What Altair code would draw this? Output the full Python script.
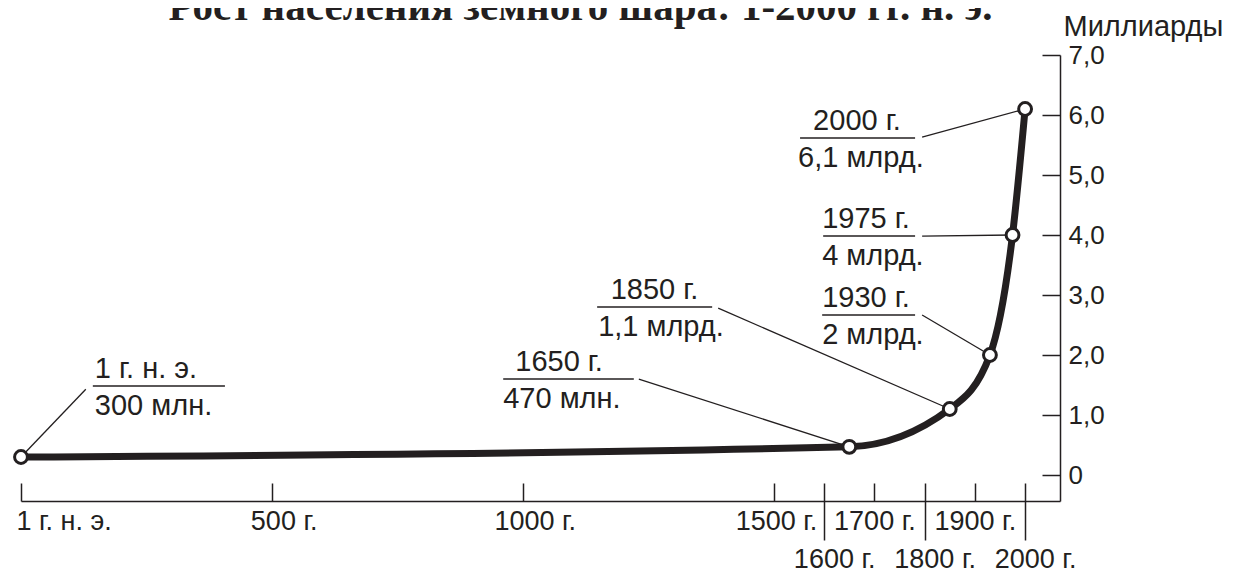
import altair as alt
import pandas as pd

# ---------------- data ----------------
years = [1, 1650, 1850, 1930, 1975, 2000]
population = [0.3, 0.47, 1.1, 2.0, 4.0, 6.1]          # billions
year_texts = ["1 г. н. э.", "1650 г.", "1850 г.", "1930 г.", "1975 г.", "2000 г."]
value_texts = ["300 млн.", "470 млн.", "1,1 млрд.", "2 млрд.", "4 млрд.", "6,1 млрд."]

# annotation placement (data units: year / billions)
rule_start = [144, 961, 1148, 1596, 1598, 1552]
rule_end = [407, 1221, 1377, 1781, 1781, 1781]
rule_level = [1.483, 1.6, 2.8, 2.667, 3.983, 5.617]
leader_x = [130, 1231, 1389, 1795, 1795, 1795]
leader_y = [1.43, 1.6, 2.78, 2.667, 3.983, 5.633]
year_text_x = [148, 985, 1175, 1596, 1596, 1578]
value_text_x = [148, 961, 1150, 1596, 1596, 1548]

# axes
x_ticks_upper = [1, 500, 1000, 1500, 1700, 1900]
x_labels_upper = ["1 г. н. э.", "500 г.", "1000 г.", "1500 г.", "1700 г.", "1900 г."]
x_ticks_lower = [1600, 1800, 2000]
x_labels_lower = ["1600 г.", "1800 г.", "2000 г."]
y_ticks = [0, 1, 2, 3, 4, 5, 6, 7]
y_labels = ["0", "1,0", "2,0", "3,0", "4,0", "5,0", "6,0", "7,0"]
x_domain = [1, 2069.5]
y_domain = [-0.433, 7]

title_text = "Рост населения земного шара: 1-2000 гг. н. э."
y_title = "Миллиарды"

INK = "#231f20"
SANS = "Liberation Sans"

pts = pd.DataFrame({"year": years, "pop": population})
ann = pd.DataFrame({
    "year": years, "pop": population,
    "year_text": year_texts, "value_text": value_texts,
    "rule_start": rule_start, "rule_end": rule_end, "rule_level": rule_level,
    "leader_x": leader_x, "leader_y": leader_y,
    "year_text_x": year_text_x, "value_text_x": value_text_x,
})


def label_expr(values, labels):
    parts = [f"datum.value == {v} ? '{l}'" for v, l in zip(values, labels)]
    return " : ".join(parts) + " : ''"


xs = alt.Scale(domain=x_domain, nice=False, zero=False)
ys = alt.Scale(domain=y_domain, nice=False, zero=False)

W, H = 1039, 446

axis_upper = alt.Axis(
    orient="bottom", values=x_ticks_upper, ticks=False, tickSize=0,
    domain=True, domainColor=INK, domainWidth=1.5, grid=False,
    labelExpr=label_expr(x_ticks_upper, x_labels_upper),
    labelFont=SANS, labelFontSize=27, labelColor=INK, labelPadding=7,
    labelAlign={"expr": "datum.value == 1 ? 'left' : 'center'"},
    labelOffset={"expr": "datum.value == 1 ? -5 : (datum.value < 1200 ? 12 : (datum.value < 1600 ? 2 : 0))"},
    labelFlush=False, labelOverlap=False, labelBound=False, title=None,
)
axis_lower = alt.Axis(
    orient="bottom", values=x_ticks_lower, ticks=True, tickSize=39,
    tickWidth=1.5, tickColor=INK, domain=False, grid=False,
    labelExpr=label_expr(x_ticks_lower, x_labels_lower),
    labelFont=SANS, labelFontSize=27, labelColor=INK, labelPadding=6,
    labelOffset=10, labelFlush=False, labelOverlap=False, labelBound=False,
    title=None,
)
axis_inner_x = alt.Axis(
    orient="top", offset=-H, values=sorted(x_ticks_upper + x_ticks_lower),
    ticks=True, tickSize=18, tickWidth=1.5, tickColor=INK,
    domain=False, labels=False, grid=False, title=None,
)
axis_right = alt.Axis(
    orient="right", values=y_ticks, ticks=False, tickSize=0,
    domain=True, domainColor=INK, domainWidth=1.5, grid=False,
    labelExpr=label_expr(y_ticks, y_labels),
    labelFont=SANS, labelFontSize=26, labelColor=INK, labelPadding=8,
    labelOverlap=False, labelBound=False, labelFlush=False,
    title=y_title, titleAngle=0, titleAlign="left", titleBaseline="alphabetic",
    titleX=3, titleY=-20, titleFont=SANS, titleFontSize=29,
    titleFontWeight="normal", titleColor=INK,
)
axis_inner_y = alt.Axis(
    orient="left", offset=-W, values=y_ticks, ticks=True, tickSize=18,
    tickWidth=1.5, tickColor=INK, domain=False, labels=False, grid=False,
    title=None,
)

leaders = alt.Chart(ann).mark_rule(color=INK, strokeWidth=1.3).encode(
    x=alt.X("leader_x:Q", scale=xs, axis=axis_lower),
    y=alt.Y("leader_y:Q", scale=ys, axis=axis_inner_y),
    x2=alt.X2("year:Q"),
    y2=alt.Y2("pop:Q"),
)

line = alt.Chart(pts).mark_line(
    color=INK, strokeWidth=7, interpolate="monotone"
).encode(
    x=alt.X("year:Q", scale=xs, axis=axis_upper),
    y=alt.Y("pop:Q", scale=ys, axis=axis_right),
)

underlines = alt.Chart(ann).mark_rule(color=INK, strokeWidth=1.4).encode(
    x=alt.X("rule_start:Q", scale=xs, axis=axis_inner_x),
    x2=alt.X2("rule_end:Q"),
    y=alt.Y("rule_level:Q", scale=ys, axis=None),
)

year_lbl = alt.Chart(ann).mark_text(
    align="left", baseline="alphabetic", dy=-8, font=SANS, fontSize=29, color=INK
).encode(
    x=alt.X("year_text_x:Q", scale=xs, axis=None),
    y=alt.Y("rule_level:Q", scale=ys, axis=None),
    text="year_text:N",
)

value_lbl = alt.Chart(ann).mark_text(
    align="left", baseline="alphabetic", dy=29, font=SANS, fontSize=29, color=INK
).encode(
    x=alt.X("value_text_x:Q", scale=xs, axis=None),
    y=alt.Y("rule_level:Q", scale=ys, axis=None),
    text="value_text:N",
)

points = alt.Chart(pts).mark_point(
    shape="circle", filled=True, fill="white", stroke=INK, strokeWidth=3,
    size=165, opacity=1
).encode(
    x=alt.X("year:Q", scale=xs, axis=None),
    y=alt.Y("pop:Q", scale=ys, axis=None),
)

chart = alt.layer(
    leaders, line, underlines, year_lbl, value_lbl, points
).resolve_axis(
    x="independent", y="independent"
).properties(
    width=W, height=H,
    title=alt.TitleParams(
        text=title_text, font="Liberation Serif", fontSize=41, fontWeight="bold",
        color=INK, anchor="middle", frame="group", dx=40, offset=-17,
    ),
    autosize=alt.AutoSizeParams(type="none"),
    padding={"left": 13, "top": 47, "right": 165, "bottom": 72},
    background="white",
).configure_view(stroke=None)

chart.save("out.html", embed_options={"renderer": "svg", "actions": False})
